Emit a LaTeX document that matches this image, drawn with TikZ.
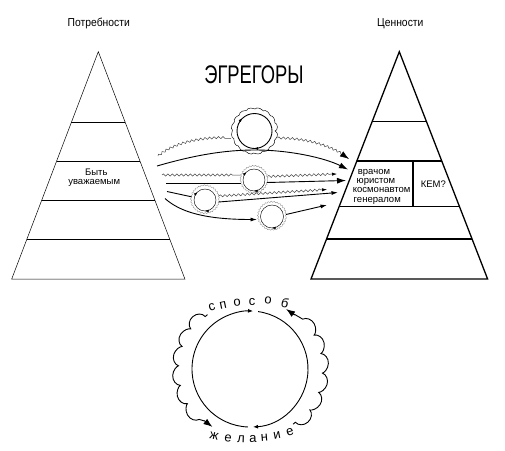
\documentclass[tikz,border=0pt]{standalone}
\usepackage{fontspec}
\setmainfont{Liberation Sans}
\newfontfamily\narrowfont[FakeStretch=0.9]{Liberation Sans}
\newfontfamily\titlefont[FakeStretch=0.72]{Liberation Sans}
\usetikzlibrary{arrows.meta,calc,decorations.pathmorphing,decorations.markings}
\begin{document}
\begin{tikzpicture}[x=1pt,y=-1pt,
  thintri/.style={line width=0.5pt},
  thicktri/.style={line width=1.3pt, line join=miter},
  flow/.style={line width=0.9pt},
  wavy/.style={gray!55!black, line width=0.5pt, decorate,
    decoration={snake, segment length=4.5pt, amplitude=1.1pt, post length=6pt}},
  bigtip/.style={-{Latex[length=9pt,width=6pt,black]}},
  midtip/.style={-{Latex[length=6.5pt,width=4pt,black]}},
  smalltip/.style={-{Latex[length=5pt,width=3.2pt,black]}},
  ring/.style={gray, line width=0.3pt, decorate,
    decoration={snake, segment length=3pt, amplitude=0.6pt}},
  egr/.style={circle, draw, line width=0.45pt, inner sep=0pt},
  lbl/.style={inner sep=0pt, font=\fontsize{9.5}{11}\selectfont},
  letter/.style={inner sep=0pt, font=\fontsize{13}{14}\selectfont},
  cw/.style={decorate, decoration={markings,
    mark=at position 0.375 with {\arrowreversed{Latex[length=3.5pt,width=2.8pt]}},
    mark=at position 0.75 with {\arrowreversed{Latex[length=3.5pt,width=2.8pt]}}}},
  cwb/.style={decorate, decoration={markings,
    mark=at position 0.75 with {\arrowreversed{Latex[length=3.5pt,width=2.8pt]}}}},
  bumpy/.style={line width=0.9pt, decorate,
    decoration={bumps, mirror, segment length=38pt, amplitude=8pt, pre length=3pt, post length=10pt},
    -{Latex[length=9pt,width=6.5pt]}},
]
\useasboundingbox (0,0) rectangle (505,450);
\fill[white] (0,0) rectangle (505,450);

% titles
\node[anchor=base, inner sep=0pt, font=\narrowfont\fontsize{11.5}{13}\selectfont] (tneeds) at (98.8,26.5) {Потребности};
\node[anchor=base, inner sep=0pt, font=\narrowfont\fontsize{11.5}{13}\selectfont] (tvalues) at (400.3,26.5) {Ценности};
\node[anchor=base, inner sep=0pt, font=\titlefont\fontsize{25.5}{28}\selectfont] (tegr) at (254,83.3) {ЭГРЕГОРЫ};

% left pyramid
\coordinate (LA) at (98.3,51.7);
\coordinate (LL) at (11.7,279);
\coordinate (LR) at (184.9,279);
\draw[thintri] (LA) -- (LL) -- (LR) -- cycle;
\foreach \f in {0.3106,0.4809,0.6524,0.8240}
  \draw[thintri] ($(LA)!\f!(LL)$) -- ($(LA)!\f!(LR)$);
\node[lbl, anchor=base] (n1) at (96.3,175) {Быть};
\node[lbl, anchor=base] (n2) at (94.2,184.3) {уважаемым};

% right pyramid
\coordinate (RA) at (399.3,51.7);
\coordinate (RL) at (311,279);
\coordinate (RR) at (487.6,279);
\draw[thicktri] (RA) -- (RL) -- (RR) -- cycle;
\foreach \f in {0.308,0.4809,0.681,0.824}
  \draw[thicktri] ($(RA)!\f!(RL)$) -- ($(RA)!\f!(RR)$);
\coordinate (dtop) at (413,161);
\coordinate (dbot) at (413,206.5);
\draw[thicktri] (dtop) -- (dbot);
\node[lbl, anchor=base west] (w1) at (357.7,174.3) {врачом};
\node[lbl, anchor=base west] (w2) at (356.5,183.5) {юристом};
\node[lbl, anchor=base west] (w3) at (352.7,192.8) {космонавтом};
\node[lbl, anchor=base west] (w4) at (353.5,202.3) {генералом};
\node[lbl, anchor=base] (kem) at (433.3,187.3) {КЕМ?};

% egregors
\node[egr, line width=0.9pt, minimum size=35pt] (E1) at (254.5,131) {};
\path[cw] (E1.center) circle[radius=17.5pt];
\draw[line width=0.45pt, decorate, decoration={bumps, mirror, segment length=16pt, amplitude=2.4pt}] (E1.center) circle[radius=20.5pt];

\node[egr, minimum size=22pt] (E2) at (254,180) {};
\path[cw] (E2.center) circle[radius=11pt];
\draw[ring] (E2.center) circle[radius=13.5pt];

\node[egr, minimum size=22pt] (E3) at (205,200) {};
\path[cw] (E3.center) circle[radius=11pt];
\draw[ring] (E3.center) circle[radius=14pt];

\node[egr, minimum size=23pt] (E4) at (272,216.5) {};
\path[cwb] (E4.center) circle[radius=11.5pt];
\draw[ring] (E4.center) circle[radius=14pt];

% flows
\coordinate (s1) at (158,156);   \coordinate (t1) at (349,159);
\coordinate (s2) at (157,166);   \coordinate (t2) at (348,169.5);
\coordinate (s3) at (162,175);   \coordinate (t3) at (337,174);
\coordinate (s4) at (166,183);   \coordinate (t4) at (346,180.5);
\coordinate (s5) at (167,191.5);
\coordinate (t6) at (327,189.5);
\coordinate (t7) at (338,192.5);
\coordinate (s8) at (165,198.5);
\coordinate (t9) at (327,205);

\draw[wavy] (s1) .. controls (175,142) and (205,137) .. (231,138.5);
\draw[wavy, bigtip] (277.5,138) .. controls (305,138) and (330,145) .. (t1);
\draw[flow, bigtip] (s2) .. controls (195,155) and (225,150) .. (255,150) .. controls (290,150) and (325,158) .. (t2);
\draw[wavy] (s3) -- (240.5,175);
\draw[wavy, smalltip] (267.5,176.5) -- (t3);
\draw[flow] (s4) -- (240.8,183);
\draw[flow, bigtip] (267.2,182.5) -- (t4);
\draw[flow] (s5) -- (191.5,196.8);
\draw[wavy, smalltip] (219,196) -- (t6);
\draw[flow, midtip] (218.5,202) -- (t7);
\draw[flow, midtip] (s8) .. controls (180,212) and (205,219.5) .. (257,219.5);
\draw[flow, midtip] (286,214.5) -- (t9);

% bottom cycle
\coordinate (B) at (250,369);
\draw[line width=0.9pt, -{Latex[length=5pt,width=4pt]}] ($(B)+(268:58pt)$) arc[start angle=268, end angle=87, radius=58pt];
\draw[line width=0.9pt, -{Latex[length=5pt,width=4pt]}] ($(B)+(82:58pt)$) arc[start angle=82, end angle=-87, radius=58pt];
\draw[bumpy] ($(B)+(128:69pt)$) arc[start angle=128, end angle=237, radius=69pt];
\draw[bumpy] ($(B)+(-52:70pt)$) arc[start angle=-52, end angle=59, radius=70pt];

\node[letter, rotate=18] (a1) at (212,307) {с};
\node[letter, rotate=12] (a2) at (223,305) {п};
\node[letter, rotate=6] (a3) at (237,303) {о};
\node[letter, rotate=1] (a4) at (252,301.7) {с};
\node[letter, rotate=-6] (a5) at (268,300.5) {о};
\node[letter, rotate=-16] (a6) at (285,302.5) {б};

\node[letter, rotate=-12] (b1) at (214,436) {ж};
\node[letter, rotate=-6] (b2) at (228,438.5) {е};
\node[letter, rotate=-2] (b3) at (241,439.5) {л};
\node[letter, rotate=1] (b4) at (253,439) {а};
\node[letter, rotate=5] (b5) at (264.5,437.5) {н};
\node[letter, rotate=11] (b6) at (277,435.5) {и};
\node[letter, rotate=18] (b7) at (290,432) {е};
\end{tikzpicture}
\end{document}
